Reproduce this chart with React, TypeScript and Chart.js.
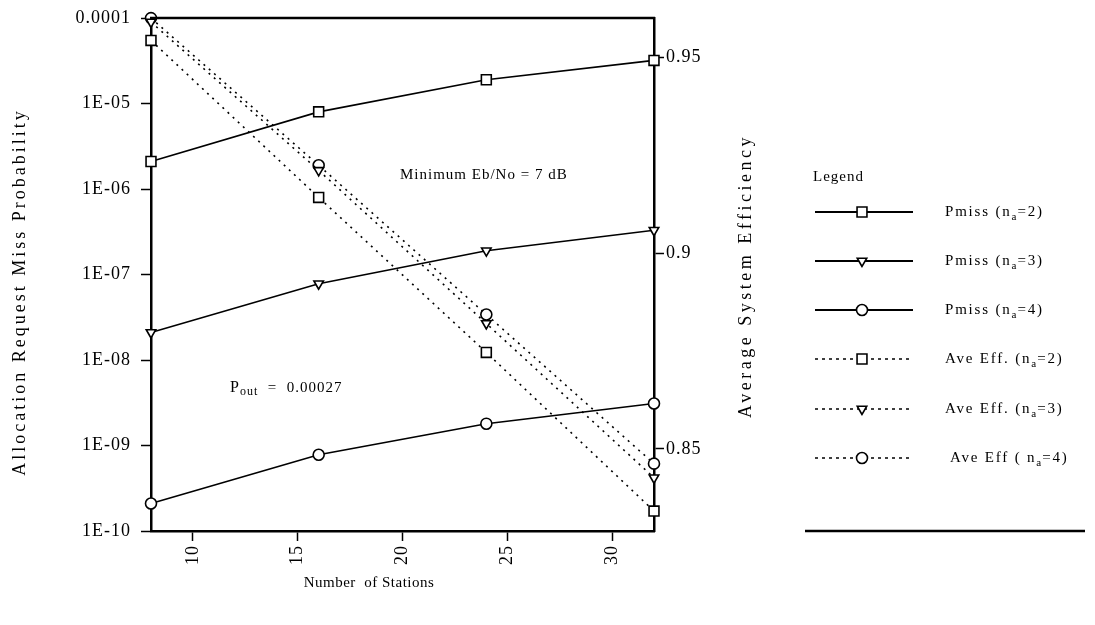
import React, { useEffect, useRef } from 'react';
import { Chart, registerables } from 'chart.js';
import { drawPoint } from 'chart.js/helpers';

Chart.register(...registerables);

// ---- data ----
const stations = [8, 16, 24, 32];
const pmissNa2 = [2.1e-6, 8.0e-6, 1.9e-5, 3.2e-5];
const pmissNa3 = [2.1e-8, 7.8e-8, 1.9e-7, 3.3e-7];
const pmissNa4 = [2.1e-10, 7.8e-10, 1.8e-9, 3.1e-9];
const effNa2 = [0.9543, 0.9142, 0.8746, 0.8341];
const effNa3 = [0.959, 0.9211, 0.882, 0.8426];
const effNa4 = [0.96, 0.9224, 0.8843, 0.8462];

const xTicks = [10, 15, 20, 25, 30];
const leftTicks = [1e-10, 1e-9, 1e-8, 1e-7, 1e-6, 1e-5, 1e-4];
const leftTickLabels = ['1E-10', '1E-09', '1E-08', '1E-07', '1E-06', '1E-05', '0.0001'];
const rightTicks = [0.85, 0.9, 0.95];
const rightTickLabels = ['0.85', '0.9', '0.95'];

const legendLabels: [string, string, string][] = [
  ['Pmiss (n', 'a', '=2)'],
  ['Pmiss (n', 'a', '=3)'],
  ['Pmiss (n', 'a', '=4)'],
  ['Ave Eff. (n', 'a', '=2)'],
  ['Ave Eff. (n', 'a', '=3)'],
  ['Ave Eff ( n', 'a', '=4)'],
];

const FONT = '"Liberation Serif", "DejaVu Serif", serif';

function pts(vals: number[]) {
  return stations.map((x, i) => ({ x, y: vals[i] }));
}

const markerStyles = [
  { pointStyle: 'rect', rotation: 0, radius: 7 },
  { pointStyle: 'triangle', rotation: 180, radius: 5.5 },
  { pointStyle: 'circle', rotation: 0, radius: 5.5 },
];

function makeDataset(label: string, vals: number[], kind: number, eff: boolean) {
  const m = markerStyles[kind];
  return {
    label,
    data: pts(vals),
    yAxisID: eff ? 'y2' : 'y',
    borderColor: '#000',
    borderWidth: 1.6,
    borderDash: eff ? [2, 5] : [],
    pointStyle: m.pointStyle,
    rotation: m.rotation,
    pointRadius: m.radius,
    pointBackgroundColor: '#fff',
    pointBorderColor: '#000',
    pointBorderWidth: 1.6,
    fill: false,
    tension: 0,
    clip: false as any,
  };
}

function spacedText(ctx: CanvasRenderingContext2D, text: string, x: number, y: number, ls: string) {
  (ctx as any).letterSpacing = ls;
  ctx.fillText(text, x, y);
}

const decorPlugin = {
  id: 'decor',
  beforeDraw(chart: any) {
    chart.ctx.letterSpacing = '1px';
  },
  afterDraw(chart: any) {
    const ctx: CanvasRenderingContext2D = chart.ctx;
    const ca = chart.chartArea;
    ctx.save();
    ctx.fillStyle = '#000';
    ctx.strokeStyle = '#000';

    // top frame line
    ctx.lineWidth = 2.5;
    ctx.beginPath();
    ctx.moveTo(ca.left - 1, ca.top);
    ctx.lineTo(ca.right + 1, ca.top);
    ctx.stroke();

    // axis titles
    ctx.font = `18px ${FONT}`;
    ctx.textAlign = 'center';
    ctx.textBaseline = 'middle';
    ctx.save();
    ctx.translate(20, 292);
    ctx.rotate(-Math.PI / 2);
    spacedText(ctx, 'Allocation Request Miss Probability', 0, 0, '3px');
    ctx.restore();
    ctx.save();
    ctx.translate(746, 276);
    ctx.rotate(-Math.PI / 2);
    spacedText(ctx, 'Average System Efficiency', 0, 0, '3.5px');
    ctx.restore();
    ctx.font = `15px ${FONT}`;
    spacedText(ctx, 'Number  of Stations', 369, 583, '0.5px');

    // annotations
    ctx.textAlign = 'left';
    ctx.font = `15px ${FONT}`;
    spacedText(ctx, 'Minimum Eb/No = 7 dB', 400, 175, '1px');
    ctx.font = `16px ${FONT}`;
    let px = 230;
    ctx.fillText('P', px, 388);
    px += ctx.measureText('P').width;
    ctx.font = `12px ${FONT}`;
    ctx.fillText('out', px, 392);
    px += ctx.measureText('out').width;
    ctx.font = `15px ${FONT}`;
    ctx.fillText('  =  0.00027', px, 388);

    // legend
    ctx.font = `15px ${FONT}`;
    spacedText(ctx, 'Legend', 813, 177, '1px');
    const ys = [212, 261, 310, 359, 409, 458];
    chart.data.datasets.forEach((ds: any, i: number) => {
      const y = ys[i];
      ctx.save();
      ctx.lineWidth = i < 3 ? 2 : 1.6;
      ctx.setLineDash(i < 3 ? [] : [3, 4]);
      ctx.beginPath();
      ctx.moveTo(815, y);
      ctx.lineTo(913, y);
      ctx.stroke();
      ctx.restore();
      ctx.save();
      ctx.fillStyle = '#fff';
      ctx.strokeStyle = '#000';
      ctx.lineWidth = 1.6;
      drawPoint(ctx, { pointStyle: ds.pointStyle, rotation: ds.rotation, radius: ds.pointRadius, borderWidth: 1.6 } as any, 862, y);
      ctx.restore();
      const [a, b, c] = legendLabels[i];
      let tx = i === 5 ? 950 : 945;
      (ctx as any).letterSpacing = '1.8px';
      ctx.font = `15px ${FONT}`;
      ctx.fillText(a, tx, y);
      tx += ctx.measureText(a).width;
      ctx.font = `11px ${FONT}`;
      (ctx as any).letterSpacing = '0px';
      ctx.fillText(b, tx, y + 5);
      tx += ctx.measureText(b).width + 1;
      (ctx as any).letterSpacing = '1.8px';
      ctx.font = `15px ${FONT}`;
      ctx.fillText(c, tx, y);
    });
    ctx.lineWidth = 2.5;
    ctx.beginPath();
    ctx.moveTo(805, 531);
    ctx.lineTo(1085, 531);
    ctx.stroke();

    ctx.restore();
    (ctx as any).letterSpacing = '0px';
  },
};

export default function App() {
  const ref = useRef<HTMLCanvasElement | null>(null);
  useEffect(() => {
    if (!ref.current) return;
    const tickFont = { family: FONT, size: 18 };
    const yTickFont = { family: FONT, size: 18, lineHeight: 0.9 };
    const chart = new Chart(ref.current, {
      type: 'line',
      data: {
        datasets: [
          makeDataset('Pmiss (na=2)', pmissNa2, 0, false),
          makeDataset('Pmiss (na=3)', pmissNa3, 1, false),
          makeDataset('Pmiss (na=4)', pmissNa4, 2, false),
          makeDataset('Ave Eff. (na=2)', effNa2, 0, true),
          makeDataset('Ave Eff. (na=3)', effNa3, 1, true),
          makeDataset('Ave Eff ( na=4)', effNa4, 2, true),
        ] as any,
      },
      options: {
        animation: false,
        responsive: true,
        maintainAspectRatio: false,
        layout: { padding: { left: 0, top: 18, right: 381, bottom: 0 } },
        plugins: { legend: { display: false }, tooltip: { enabled: false } },
        scales: {
          x: {
            type: 'linear',
            min: 8,
            max: 32,
            afterBuildTicks: (s: any) => {
              s.ticks = xTicks.map((v) => ({ value: v }));
            },
            afterFit: (s: any) => {
              s.height = 94;
            },
            ticks: {
              minRotation: 90,
              maxRotation: 90,
              color: '#000',
              font: tickFont,
              padding: 4,
              callback: (v: any) => String(v),
            },
            grid: { drawOnChartArea: false, color: '#000', tickLength: 10, tickWidth: 1.5 },
            border: { display: true, color: '#000', width: 2.5 },
          },
          y: {
            type: 'logarithmic',
            position: 'left',
            min: 1e-10,
            max: 1e-4,
            afterBuildTicks: (s: any) => {
              s.ticks = leftTicks.map((v) => ({ value: v, major: true }));
            },
            afterFit: (s: any) => {
              s.width = 151;
            },
            ticks: {
              color: '#000',
              font: yTickFont,
              padding: 10,
              callback: (_v: any, i: number) => leftTickLabels[i],
            },
            grid: { drawOnChartArea: false, color: '#000', tickLength: 10, tickWidth: 1.5 },
            border: { display: true, color: '#000', width: 2.5 },
          },
          y2: {
            type: 'linear',
            position: 'right',
            min: 0.829,
            max: 0.96,
            afterBuildTicks: (s: any) => {
              s.ticks = rightTicks.map((v) => ({ value: v }));
            },
            afterFit: (s: any) => {
              s.width = 60;
            },
            ticks: {
              color: '#000',
              font: yTickFont,
              padding: 2,
              callback: (_v: any, i: number) => rightTickLabels[i],
            },
            grid: { drawOnChartArea: false, color: '#000', tickLength: 10, tickWidth: 1.5 },
            border: { display: true, color: '#000', width: 2.5 },
          },
        },
      } as any,
      plugins: [decorPlugin],
    });
    return () => chart.destroy();
  }, []);
  return (
    <div style={{ position: 'fixed', left: 0, top: 0, width: 1095, height: 625, background: '#fff' }}>
      <canvas ref={ref} />
    </div>
  );
}
